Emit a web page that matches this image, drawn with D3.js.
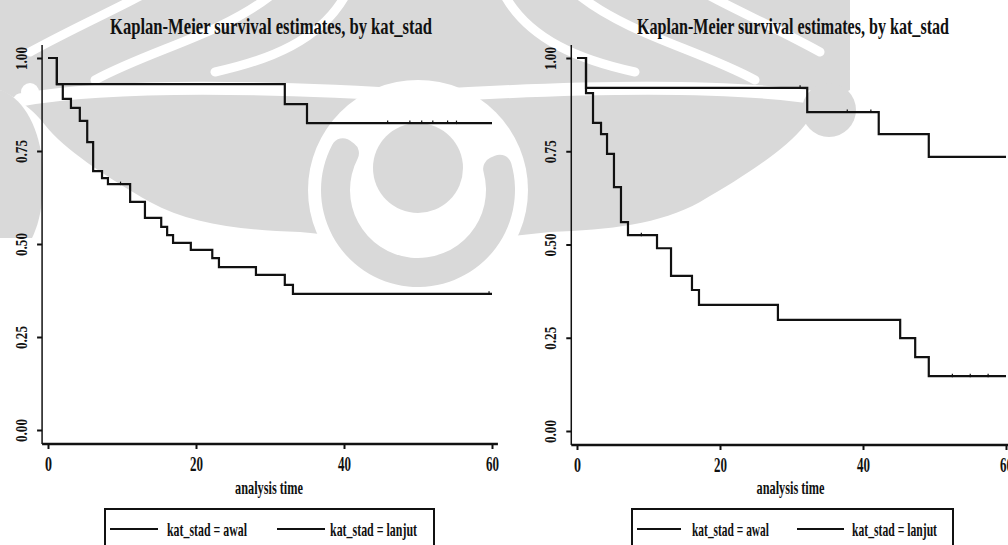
<!DOCTYPE html>
<html>
<head>
<meta charset="utf-8">
<script src="https://cdn.jsdelivr.net/npm/d3@7"></script>
<style>
  html, body { margin: 0; padding: 0; background: #fff; }
  svg { display: block; }
</style>
</head>
<body>
<svg id="chart" width="1008" height="545"></svg>
<script>
// Kaplan-Meier survival estimates by disease stage (kat_stad), two cohorts.
const chartTitle = "Kaplan-Meier survival estimates, by kat_stad";
const xAxisTitle = "analysis time";
const groupLabels = ["kat_stad = awal", "kat_stad = lanjut"];

const xTickValues = [0, 20, 40, 60];
const yTickValues = [0, 0.25, 0.5, 0.75, 1];
const yTickLabels = ["0.00", "0.25", "0.50", "0.75", "1.00"];
const followUpEnd = 60;

// Panel A — step times and survival after each step
const leftAwalTimes = [0, 1.2, 2.0, 3.1, 4.3, 5.3, 6.1, 7.3, 8.1, 11.1, 13.1, 15.3, 16.1, 16.9, 19.3, 22.2, 23.1, 28.1, 32.0, 33.1];
const leftAwalSurv  = [1.0, 0.930, 0.890, 0.866, 0.831, 0.774, 0.696, 0.677, 0.661, 0.613, 0.570, 0.546, 0.524, 0.503, 0.484, 0.462, 0.438, 0.417, 0.390, 0.366];
const leftLanjutTimes = [0, 1.2, 32.0, 35.0];
const leftLanjutSurv  = [1.0, 0.930, 0.876, 0.825];
const leftAwalCensored = [9.8, 59.6];
const leftLanjutCensored = [45.9, 48.9, 50.5, 52.0, 54.0, 55.2];

// Panel B
const rightAwalTimes = [0, 1.26, 2.24, 3.36, 4.2, 5.17, 6.15, 7.13, 11.19, 13.15, 16.08, 17.06, 28.1, 45.2, 47.3, 49.2];
const rightAwalSurv  = [1.0, 0.906, 0.826, 0.796, 0.743, 0.654, 0.560, 0.525, 0.490, 0.416, 0.378, 0.338, 0.298, 0.249, 0.198, 0.147];
const rightLanjutTimes = [0, 1.26, 32.2, 42.2, 49.2];
const rightLanjutSurv  = [1.0, 0.920, 0.855, 0.796, 0.735];
const rightAwalCensored = [9.0, 52.5, 55.0, 57.5];
const rightLanjutCensored = [31.2, 37.8, 41.1];

const svg = d3.select("#chart");
const ink = "#111";
const serif = '"Liberation Serif", "Times New Roman", "DejaVu Serif", serif';

// ---- faint emblem behind the plots ----
const shade = "#d9d9d9";
const emblem = svg.append("g");
function emblemBody(g) {
  g.append("path").attr("fill", shade)
    .attr("d", "M0,0 L425,0 L425,240 C380,242 340,236 300,232 C240,230 190,224 150,202 C105,176 65,150 45,125 C30,105 10,95 0,90 Z");
}
function emblemStripes(g) {
  const w = g.append("g").attr("fill", "none").attr("stroke", "#fff").attr("stroke-linecap", "round");
  w.append("path").attr("stroke-width", 13).attr("d", "M20,100 C110,84 260,86 425,96");
  w.append("path").attr("stroke-width", 9).attr("d", "M30,52 C70,30 110,12 140,-4");
  w.append("path").attr("stroke-width", 9).attr("d", "M95,80 C150,50 220,35 270,-4");
  w.append("path").attr("stroke-width", 9).attr("d", "M215,72 C270,60 320,40 345,-4");
}
const halves = [emblem.append("g"), emblem.append("g").attr("transform", "translate(850,0) scale(-1,1)")];
halves.forEach(emblemBody);
halves.forEach(emblemStripes);
// leaf along the left edge with its small white eye
emblem.append("path").attr("fill", shade)
  .attr("d", "M0,90 C20,96 38,122 42,160 C45,198 40,222 32,238 L0,238 Z");
emblem.append("circle").attr("fill", "#fff").attr("cx", 30).attr("cy", 92).attr("r", 9);
// center roundel: cleared ring, open crescent, inner disc
emblem.append("circle").attr("fill", "#fff").attr("cx", 418).attr("cy", 190).attr("r", 110);
emblem.append("path").attr("fill", shade)
  .attr("transform", "translate(418,190)")
  .attr("d", d3.arc().innerRadius(68).outerRadius(97).cornerRadius(12)
    .startAngle(66 * Math.PI / 180).endAngle(306 * Math.PI / 180)());
emblem.append("circle").attr("fill", shade).attr("cx", 418).attr("cy", 168).attr("r", 45);
emblem.append("circle").attr("fill", shade).attr("cx", 829).attr("cy", 110).attr("r", 27);

// ---- panels ----
const panels = [
  {
    xRange: [48, 492], yRange: [430, 58], titleX: 271, titleLen: 322,
    legend: { x0: 105, x1: 434, items: [[110, 158, 167, 80], [277, 325, 330, 87]] },
    series: [
      { times: leftAwalTimes, surv: leftAwalSurv, cens: leftAwalCensored },
      { times: leftLanjutTimes, surv: leftLanjutSurv, cens: leftLanjutCensored }
    ]
  },
  {
    xRange: [577, 1006], yRange: [431, 58], titleX: 793, titleLen: 312,
    legend: { x0: 632, x1: 953, items: [[637, 681, 692, 77], [797, 844, 852, 85]] },
    series: [
      { times: rightAwalTimes, surv: rightAwalSurv, cens: rightAwalCensored },
      { times: rightLanjutTimes, surv: rightLanjutSurv, cens: rightLanjutCensored }
    ]
  }
];

panels.forEach(p => {
  const x = d3.scaleLinear().domain([0, 60]).range(p.xRange);
  const y = d3.scaleLinear().domain([0, 1]).range(p.yRange);
  const g = svg.append("g");
  const xAxisY = y(-0.0376);
  const yAxisX = x(-0.8);

  // title
  g.append("text").attr("x", p.titleX).attr("y", 34)
    .attr("text-anchor", "middle")
    .style("font-family", serif).style("font-size", "24px").style("font-weight", "bold")
    .attr("fill", ink)
    .attr("textLength", p.titleLen).attr("lengthAdjust", "spacingAndGlyphs")
    .text(chartTitle);

  // y axis
  const yAxis = g.append("g").attr("transform", `translate(${yAxisX},0)`)
    .call(d3.axisLeft(y).tickValues(yTickValues).tickSize(5).tickSizeOuter(0)
      .tickFormat((d, i) => yTickLabels[i]));
  yAxis.select(".domain").remove();
  yAxis.selectAll(".tick line").attr("stroke", ink).attr("stroke-width", 2);
  yAxis.selectAll(".tick text")
    .attr("transform", "rotate(-90)").attr("x", 0).attr("y", -15).attr("dy", 0)
    .attr("text-anchor", "middle")
    .style("font-family", serif).style("font-size", "16px").style("font-weight", "bold")
    .attr("textLength", 23).attr("lengthAdjust", "spacingAndGlyphs")
    .attr("fill", ink);
  g.append("line").attr("x1", yAxisX).attr("x2", yAxisX)
    .attr("y1", xAxisY).attr("y2", y(1.035))
    .attr("stroke", ink).attr("stroke-width", 1.5);

  // x axis
  const xAxis = g.append("g").attr("transform", `translate(0,${xAxisY})`)
    .call(d3.axisBottom(x).tickValues(xTickValues).tickSize(5).tickSizeOuter(0));
  xAxis.select(".domain").remove();
  xAxis.selectAll(".tick line").attr("stroke", ink).attr("stroke-width", 2);
  xAxis.selectAll(".tick text").attr("y", 12)
    .style("font-family", serif).style("font-size", "21px").style("font-weight", "bold")
    .attr("textLength", d => d === 0 ? 7 : 13).attr("lengthAdjust", "spacingAndGlyphs")
    .attr("fill", ink);
  g.append("line").attr("x1", yAxisX).attr("x2", x(60.8))
    .attr("y1", xAxisY).attr("y2", xAxisY)
    .attr("stroke", ink).attr("stroke-width", 2.5);

  g.append("text").attr("x", (p.xRange[0] + p.xRange[1]) / 2 - 1).attr("y", 494)
    .attr("text-anchor", "middle")
    .style("font-family", serif).style("font-size", "19px").style("font-weight", "bold")
    .attr("fill", ink)
    .attr("textLength", 68).attr("lengthAdjust", "spacingAndGlyphs")
    .text(xAxisTitle);

  // survival curves
  const line = d3.line().x(d => x(d[0])).y(d => y(d[1])).curve(d3.curveStepAfter);
  p.series.forEach(s => {
    const pts = s.times.map((t, i) => [t, s.surv[i]]);
    pts.push([followUpEnd, s.surv[s.surv.length - 1]]);
    g.append("path").datum(pts).attr("d", line)
      .attr("fill", "none").attr("stroke", ink).attr("stroke-width", 2.2);
    const levelAt = t => { let v = 1; s.times.forEach((tt, i) => { if (tt <= t) v = s.surv[i]; }); return v; };
    g.selectAll(null).data(s.cens).join("line")
      .attr("x1", d => x(d)).attr("x2", d => x(d))
      .attr("y1", d => y(levelAt(d)) - 2.5).attr("y2", d => y(levelAt(d)) + 1)
      .attr("stroke", ink).attr("stroke-width", 1.2);
  });

  // legend
  const L = p.legend;
  g.append("rect").attr("x", L.x0).attr("y", 509).attr("width", L.x1 - L.x0).attr("height", 60)
    .attr("fill", "#fff").attr("stroke", ink).attr("stroke-width", 2);
  L.items.forEach((it, i) => {
    g.append("line").attr("x1", it[0]).attr("x2", it[1]).attr("y1", 529).attr("y2", 529)
      .attr("stroke", ink).attr("stroke-width", 2);
    g.append("text").attr("x", it[2]).attr("y", 536)
      .style("font-family", serif).style("font-size", "19px").style("font-weight", "bold")
      .attr("fill", ink)
      .attr("textLength", it[3]).attr("lengthAdjust", "spacingAndGlyphs")
      .text(groupLabels[i]);
  });
});
</script>
</body>
</html>
